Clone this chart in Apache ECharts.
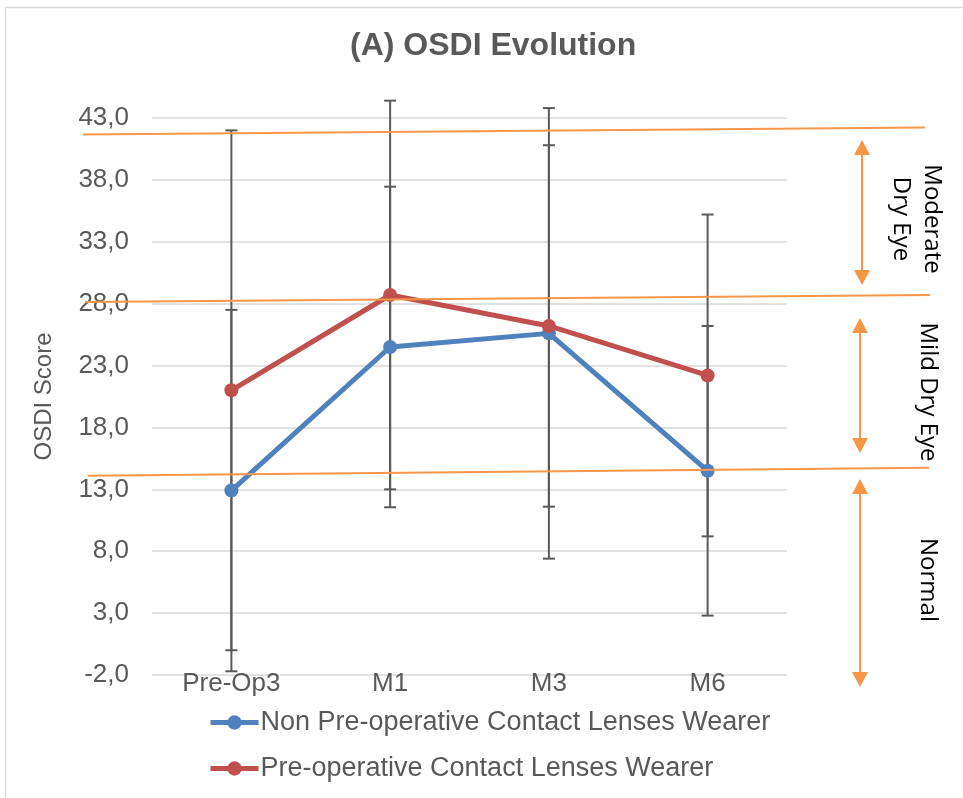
<!DOCTYPE html>
<html>
<head>
<meta charset="utf-8">
<script src="https://cdn.jsdelivr.net/npm/echarts@6/dist/echarts.min.js"></script>
<style>
html,body{margin:0;padding:0;background:#fff;}
#chart{width:963px;height:798px;}
</style>
</head>
<body>
<div id="chart"></div>
<script>
// ---- data ----
const categories = ['Pre-Op3', 'M1', 'M3', 'M6'];
const nonWearerName = 'Non Pre-operative Contact Lenses Wearer';
const wearerName = 'Pre-operative Contact Lenses Wearer';
const nonWearerMean = [12.9, 24.5, 25.6, 14.5];
const nonWearerSD = [14.6, 12.95, 18.2, 11.7];
const wearerMean = [21.0, 28.7, 26.2, 22.2];
const wearerSD = [21.0, 15.7, 14.6, 13.0];
const yMin = -2, yMax = 43, yStep = 5;
const zoneLabels = [['Moderate', 'Dry Eye'], ['Mild Dry Eye'], ['Normal']];

// ---- build ----
const GRAY = '#595959';
const ORANGE = '#F79646';
const chart = echarts.init(document.getElementById('chart'), null, {renderer: 'canvas'});

function errData(mean, sd) {
  return mean.map((m, i) => [i, +(m - sd[i]).toFixed(2), +(m + sd[i]).toFixed(2)]);
}
function renderErr(params, api) {
  const x = api.value(0);
  const top = api.coord([x, api.value(2)]);
  const bot = api.coord([x, api.value(1)]);
  const hw = 6;
  const st = {stroke: GRAY, lineWidth: 2};
  return {type: 'group', children: [
    {type: 'line', shape: {x1: top[0], y1: top[1], x2: bot[0], y2: bot[1]}, style: st},
    {type: 'line', shape: {x1: top[0] - hw, y1: top[1], x2: top[0] + hw, y2: top[1]}, style: st},
    {type: 'line', shape: {x1: bot[0] - hw, y1: bot[1], x2: bot[0] + hw, y2: bot[1]}, style: st}
  ]};
}

function arrow(x, y1, y2) {
  const hw = 8, hh = 15;
  return [
    {type: 'line', z: 100, shape: {x1: x, y1: y1 + hh - 2, x2: x, y2: y2 - hh + 2}, style: {stroke: ORANGE, lineWidth: 2}},
    {type: 'polygon', z: 100, shape: {points: [[x, y1], [x - hw, y1 + hh], [x + hw, y1 + hh]]}, style: {fill: ORANGE}},
    {type: 'polygon', z: 100, shape: {points: [[x, y2], [x - hw, y2 - hh], [x + hw, y2 - hh]]}, style: {fill: ORANGE}}
  ];
}
function oline(x1, y1, x2, y2) {
  return {type: 'line', z: 100, shape: {x1, y1, x2, y2}, style: {stroke: ORANGE, lineWidth: 2}};
}
function vtext(txt, x, y) {
  return {type: 'text', z: 100, x: x, y: y, rotation: -Math.PI / 2,
    style: {text: txt, fill: '#000', font: '24px "Open Sans"', align: 'center', verticalAlign: 'middle'}};
}

const graphics = [
  {type: 'rect', z: -10, shape: {x: 5.5, y: 7.5, width: 980, height: 820}, style: {fill: 'none', stroke: '#D9D9D9', lineWidth: 1.5}},
  oline(83, 134.5, 925, 127.5),
  oline(85, 302, 930, 295),
  oline(88, 475.7, 929, 467.7),
  ...arrow(862, 140, 285),
  ...arrow(860, 318, 453),
  ...arrow(860, 479, 687),
  vtext(zoneLabels[0][0], 932, 219),
  vtext(zoneLabels[0][1], 901, 219),
  vtext(zoneLabels[1][0], 928, 392),
  vtext(zoneLabels[2][0], 928, 580)
];

const option = {
  backgroundColor: '#fff',
  animation: false,
  title: {
    text: '(A) OSDI Evolution',
    left: 345, top: 25,
    textStyle: {fontFamily: 'Liberation Sans, Arial', fontWeight: 'bold', fontSize: 32, color: GRAY}
  },
  legend: {
    orient: 'vertical', left: 208, top: 709, padding: 0,
    data: [nonWearerName, wearerName],
    itemWidth: 48, itemHeight: 18, itemGap: 19,
    lineStyle: {width: 5},
    textStyle: {fontFamily: 'Liberation Sans, Arial', fontSize: 27, color: GRAY, padding: [0, 0, 0, -3]}
  },
  grid: {left: 152, right: 176, top: 118, bottom: 123, containLabel: false, outerBoundsMode: 'none'},
  xAxis: {
    type: 'category', data: categories, boundaryGap: true,
    axisLine: {show: false}, axisTick: {show: false},
    axisLabel: {margin: -4, fontFamily: 'Liberation Sans, Arial', fontSize: 26, color: GRAY}
  },
  yAxis: {
    type: 'value', min: yMin, max: yMax, interval: yStep,
    name: 'OSDI Score', nameLocation: 'middle', nameGap: 96,
    nameTextStyle: {fontFamily: 'Liberation Sans, Arial', fontSize: 24, color: GRAY},
    axisLine: {show: false}, axisTick: {show: false},
    axisLabel: {margin: 23, fontFamily: 'Liberation Sans, Arial', fontSize: 26, color: GRAY,
      formatter: v => v.toFixed(1).replace('.', ',')},
    splitLine: {lineStyle: {color: '#D9D9D9', width: 1.5}}
  },
  graphic: graphics,
  series: [
    {type: 'custom', name: 'err1', renderItem: renderErr, data: errData(nonWearerMean, nonWearerSD), encode: {x: 0, y: [1, 2]}, z: 1, silent: true},
    {type: 'custom', name: 'err2', renderItem: renderErr, data: errData(wearerMean, wearerSD), encode: {x: 0, y: [1, 2]}, z: 1, silent: true},
    {type: 'line', name: nonWearerName, data: nonWearerMean, symbol: 'circle', symbolSize: 14, z: 3,
      lineStyle: {color: '#4F81BD', width: 5}, itemStyle: {color: '#4F81BD'}},
    {type: 'line', name: wearerName, data: wearerMean, symbol: 'circle', symbolSize: 14, z: 3,
      lineStyle: {color: '#C0504D', width: 5}, itemStyle: {color: '#C0504D'}}
  ]
};
chart.setOption(option);
</script>
</body>
</html>
